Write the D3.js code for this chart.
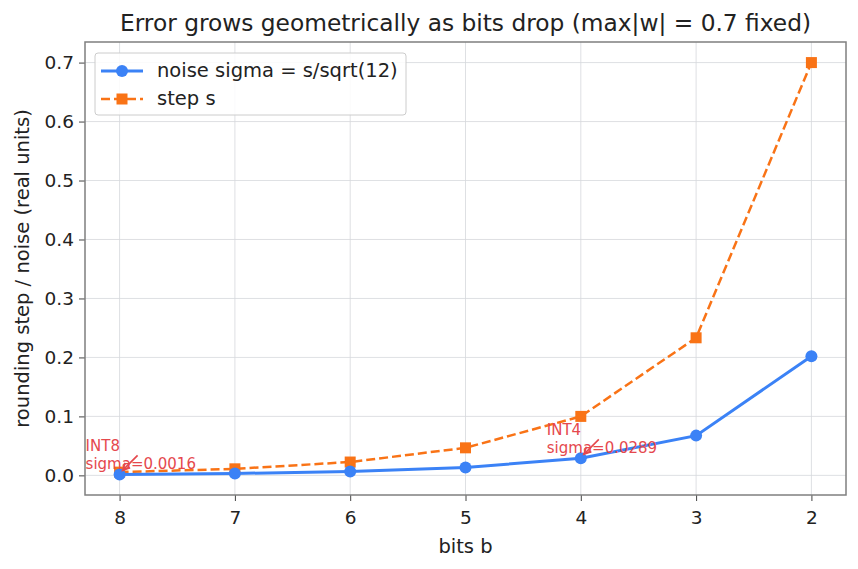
<!DOCTYPE html>
<html>
<head>
<meta charset="utf-8">
<script src="https://cdn.jsdelivr.net/npm/d3@7"></script>
<style>
  body { margin: 0; background: #fff; }
  svg text { font-family: "DejaVu Sans", sans-serif; fill: #222; }
</style>
</head>
<body>
<svg id="chart" width="858" height="569"></svg>
<script>
const bits = [8, 7, 6, 5, 4, 3, 2];
const stepS = [0.0055, 0.0111, 0.0226, 0.0467, 0.1, 0.2333, 0.7];
const noiseSigma = [0.0016, 0.0032, 0.0065, 0.0135, 0.0289, 0.0674, 0.2021];
const yTicks = [0.0, 0.1, 0.2, 0.3, 0.4, 0.5, 0.6, 0.7];
const annotations = [
  { bit: 8, value: 0.0016, lines: ['INT8', 'sigma=0.0016'] },
  { bit: 4, value: 0.0289, lines: ['INT4', 'sigma=0.0289'] }
];

const margin = { top: 42, right: 12, bottom: 74, left: 85 };
const W = 858, H = 569;
const width = W - margin.left - margin.right;
const height = H - margin.top - margin.bottom;

const svg = d3.select('#chart');
const g = svg.append('g').attr('transform', `translate(${margin.left},${margin.top})`);

const x = d3.scaleLinear().domain([8.3, 1.7]).range([0, width]);
const y = d3.scaleLinear().domain([-0.0333, 0.7349]).range([height, 0]);

// grid
g.append('g').selectAll('line').data(bits).join('line')
  .attr('x1', d => x(d)).attr('x2', d => x(d))
  .attr('y1', 0).attr('y2', height)
  .attr('stroke', '#d5d8dc').attr('stroke-width', 0.8);
g.append('g').selectAll('line').data(yTicks).join('line')
  .attr('y1', d => y(d)).attr('y2', d => y(d))
  .attr('x1', 0).attr('x2', width)
  .attr('stroke', '#d5d8dc').attr('stroke-width', 0.8);

// axes
const xAxis = g.append('g').attr('transform', `translate(0,${height})`)
  .call(d3.axisBottom(x).tickValues(bits).tickFormat(d3.format('d')).tickSize(6).tickPadding(10));
const yAxis = g.append('g')
  .call(d3.axisLeft(y).tickValues(yTicks).tickFormat(d3.format('.1f')).tickSize(6).tickPadding(5));
[xAxis, yAxis].forEach(a => {
  a.select('.domain').remove();
  a.selectAll('.tick line').attr('stroke', '#444').attr('stroke-width', 1);
  a.selectAll('.tick text').attr('font-size', 18.5).attr('fill', '#222')
    .attr('font-family', '"DejaVu Sans", sans-serif');
});

// frame
g.append('rect').attr('width', width).attr('height', height)
  .attr('fill', 'none').attr('stroke', '#7f7f7f').attr('stroke-width', 1.5);

const blue = '#3b82f6', orange = '#f97316', red = '#e5484d';

const line = d3.line().x(d => x(d[0])).y(d => y(d[1]));
const sData = bits.map((b, i) => [b, stepS[i]]);
const nData = bits.map((b, i) => [b, noiseSigma[i]]);

g.append('path').datum(sData).attr('d', line)
  .attr('fill', 'none').attr('stroke', orange).attr('stroke-width', 2.5)
  .attr('stroke-dasharray', '9,4');
g.append('path').datum(nData).attr('d', line)
  .attr('fill', 'none').attr('stroke', blue).attr('stroke-width', 3);

g.selectAll('.sq').data(sData).join('rect').attr('class', 'sq')
  .attr('x', d => x(d[0]) - 5.5).attr('y', d => y(d[1]) - 5.5)
  .attr('width', 11).attr('height', 11).attr('fill', orange);
g.selectAll('.dot').data(nData).join('circle').attr('class', 'dot')
  .attr('cx', d => x(d[0])).attr('cy', d => y(d[1])).attr('r', 6).attr('fill', blue);

// annotations: text plus an open-headed arrow towards the point
annotations.forEach(a => {
  const px = x(a.bit), py = y(a.value);
  const tx = px - 34, ty = py - 23;
  const t = g.append('text').attr('x', tx).attr('y', ty)
    .attr('font-size', 15).style('fill', red);
  a.lines.forEach((l, i) => t.append('tspan').attr('x', tx).attr('dy', i === 0 ? 0 : 17.5).text(l));

  const x1 = px + 18, y1 = py - 19, x2 = px + 3, y2 = py - 4;
  const ang = Math.atan2(y2 - y1, x2 - x1);
  const hl = 8, spread = 0.45;
  const head = `M${x2 - hl * Math.cos(ang - spread)},${y2 - hl * Math.sin(ang - spread)}` +
    `L${x2},${y2}L${x2 - hl * Math.cos(ang + spread)},${y2 - hl * Math.sin(ang + spread)}`;
  g.append('line').attr('x1', x1).attr('y1', y1).attr('x2', x2).attr('y2', y2)
    .attr('stroke', red).attr('stroke-width', 1.6);
  g.append('path').attr('d', head).attr('fill', 'none')
    .attr('stroke', red).attr('stroke-width', 1.6);
});

// legend
const lg = g.append('g').attr('transform', 'translate(10,11)');
lg.append('rect').attr('width', 311).attr('height', 62).attr('rx', 3)
  .attr('fill', 'white').attr('fill-opacity', 0.85).attr('stroke', '#cccccc');
lg.append('line').attr('x1', 6).attr('x2', 48).attr('y1', 18).attr('y2', 18)
  .attr('stroke', blue).attr('stroke-width', 3);
lg.append('circle').attr('cx', 27).attr('cy', 18).attr('r', 6).attr('fill', blue);
lg.append('line').attr('x1', 6).attr('x2', 48).attr('y1', 46).attr('y2', 46)
  .attr('stroke', orange).attr('stroke-width', 2.5).attr('stroke-dasharray', '9,4');
lg.append('rect').attr('x', 21.5).attr('y', 40.5).attr('width', 11).attr('height', 11).attr('fill', orange);
lg.append('text').attr('x', 62).attr('y', 24).attr('font-size', 19.5).text('noise sigma = s/sqrt(12)');
lg.append('text').attr('x', 62).attr('y', 52).attr('font-size', 19.5).text('step s');

// labels
svg.append('text').attr('x', margin.left + width / 2).attr('y', 31)
  .attr('text-anchor', 'middle').attr('font-size', 23.3)
  .text('Error grows geometrically as bits drop (max|w| = 0.7 fixed)');
svg.append('text').attr('x', margin.left + width / 2).attr('y', 553)
  .attr('text-anchor', 'middle').attr('font-size', 19.5).text('bits b');
svg.append('text').attr('transform', `translate(29,${margin.top + height / 2}) rotate(-90)`)
  .attr('text-anchor', 'middle').attr('font-size', 19.5).text('rounding step / noise (real units)');
</script>
</body>
</html>
